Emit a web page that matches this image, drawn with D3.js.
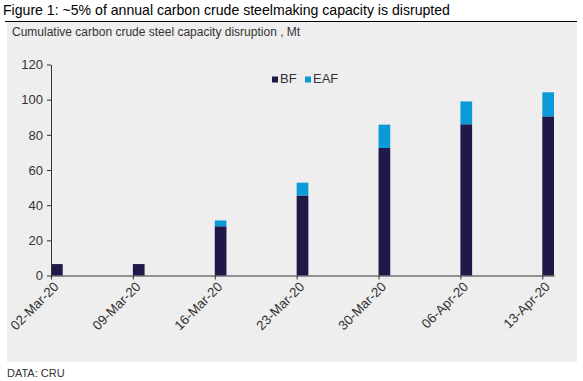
<!DOCTYPE html>
<html><head><meta charset="utf-8">
<script src="https://cdn.jsdelivr.net/npm/d3@7"></script>
<style>body{margin:0;background:#fff;} svg{display:block;font-family:"Liberation Sans",Arial,sans-serif;}</style>
</head><body>
<svg id="c" width="583" height="381"></svg>
<script>
const dates = ["2020-03-02","2020-03-09","2020-03-16","2020-03-23","2020-03-30","2020-04-06","2020-04-13"];
const bf  = [6.5, 6.5, 28, 45.5, 72.5, 86, 90.5];
const eaf = [0, 0, 3.3, 7.3, 13.3, 13, 13.7];
const yTicks = [0,20,40,60,80,100,120];
const seriesNames = ["BF","EAF"];
const colors = {BF:"#1f1848", EAF:"#0a9ad8"};

const svg = d3.select("#c");
const parse = d3.timeParse("%Y-%m-%d");
const fmt = d3.timeFormat("%d-%b-%y");
const dd = dates.map(parse);
const rows = dd.map((d,i)=>({date:d, BF:bf[i], EAF:eaf[i]}));

// background panel
svg.append("rect").attr("x",7).attr("y",22).attr("width",570).attr("height",340).attr("fill","#eeeeee");
// title
svg.append("text").attr("x",3).attr("y",15).attr("font-size",14.1).attr("fill","#000")
  .text("Figure 1: ~5% of annual carbon crude steelmaking capacity is disrupted");
svg.append("line").attr("x1",5).attr("x2",577).attr("y1",21.5).attr("y2",21.5).attr("stroke","#000").attr("stroke-width",1.2);
svg.append("text").attr("x",12).attr("y",36).attr("font-size",12).attr("fill","#333")
  .text("Cumulative carbon crude steel capacity disruption , Mt");
svg.append("text").attr("x",7).attr("y",377).attr("font-size",11).attr("fill","#333").text("DATA: CRU");

const x = d3.scaleUtc().domain([dd[0], d3.utcDay.offset(dd[dd.length-1],1)]).range([51,554]);
const y = d3.scaleLinear().domain([0,120]).range([275.5,64.5]);

const stack = d3.stack().keys(seriesNames)(rows);
const g = svg.append("g");
stack.forEach(s=>{
  g.selectAll(null).data(s).join("rect")
    .attr("x",d=>x(d.data.date))
    .attr("width",d=>x(d3.utcDay.offset(d.data.date,1))-x(d.data.date))
    .attr("y",d=>y(d[1]))
    .attr("height",d=>Math.max(0,y(d[0])-y(d[1])))
    .attr("fill",colors[s.key]);
});

// y axis
const ya = svg.append("g").attr("transform","translate(51,0)")
  .call(d3.axisLeft(y).tickValues(yTicks).tickSize(4).tickPadding(4).tickSizeOuter(0));
ya.select(".domain").attr("stroke","#333");
ya.selectAll(".tick line").attr("stroke","#333");
ya.selectAll("text").attr("font-size",13).attr("fill","#333").attr("font-family","Liberation Sans, Arial, sans-serif");

// x axis
const xa = svg.append("g").attr("transform","translate(0,275.5)")
  .call(d3.axisBottom(x).tickValues(dd).tickFormat(fmt).tickSize(4).tickSizeOuter(0));
xa.select(".domain").attr("stroke","#333");
xa.selectAll(".tick line").attr("stroke","#333");
xa.selectAll("text").attr("font-size",13.3).attr("fill","#333").attr("font-family","Liberation Sans, Arial, sans-serif")
  .attr("text-anchor","end").attr("dy",null).attr("y",0)
  .attr("transform","translate(8,12) rotate(-45)");

// legend
const leg = svg.append("g");
const lx = [272, 305];
seriesNames.forEach((n,i)=>{
  leg.append("rect").attr("x",lx[i]).attr("y",76.5).attr("width",6).attr("height",6).attr("fill",colors[n]);
  leg.append("text").attr("x",lx[i]+8).attr("y",83).attr("font-size",13).attr("fill","#333").text(n);
});
</script>
</body></html>
